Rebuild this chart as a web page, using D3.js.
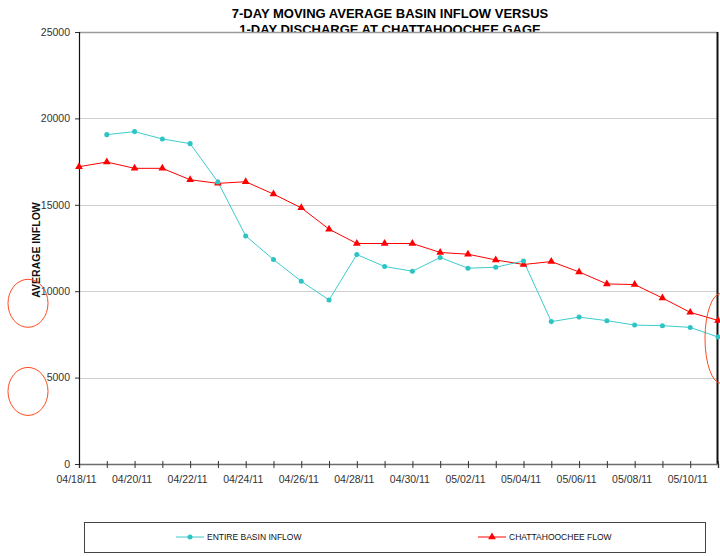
<!DOCTYPE html>
<html>
<head>
<meta charset="utf-8">
<script src="https://cdn.jsdelivr.net/npm/d3@7/dist/d3.min.js"></script>
<style>
  body { margin: 0; background: #fff; }
  text { font-family: Arial, "Liberation Sans", sans-serif; }
</style>
</head>
<body>
<div id="chart"></div>
<script>
// Data
var dates = ["2011-04-18","2011-04-19","2011-04-20","2011-04-21","2011-04-22","2011-04-23",
             "2011-04-24","2011-04-25","2011-04-26","2011-04-27","2011-04-28","2011-04-29",
             "2011-04-30","2011-05-01","2011-05-02","2011-05-03","2011-05-04","2011-05-05",
             "2011-05-06","2011-05-07","2011-05-08","2011-05-09","2011-05-10","2011-05-11"];
// basin inflow has no value on the first day
var basinInflow = [null, 19060, 19235, 18810, 18540, 16320, 13200, 11830, 10575, 9490, 12120, 11430,
                   11155, 11950, 11330, 11385, 11750, 8240, 8500, 8295, 8040, 8005, 7905, 7345];
var chattFlow = [17205, 17475, 17110, 17110, 16450, 16240, 16335, 15620, 14825, 13590, 12760, 12760,
                 12760, 12240, 12140, 11810, 11545, 11715, 11115, 10420, 10385, 9605, 8775, 8310];
var yTicks = [0, 5000, 10000, 15000, 20000, 25000];
var titleLines = ["7-DAY MOVING AVERAGE BASIN INFLOW VERSUS", "1-DAY DISCHARGE AT CHATTAHOOCHEE GAGE"];
var legendNames = ["ENTIRE BASIN INFLOW", "CHATTAHOOCHEE FLOW"];
// red circles someone drew on the chart (value at the centre)
var noteLeft = [9300, 4200];
var noteRight = {date: "2011-05-11", value: 7270};

var W = 720, H = 556;
var margin = {left: 79, right: 2, top: 32, bottom: 92};
var width = W - margin.left - margin.right;
var height = H - margin.top - margin.bottom;

var parse = d3.timeParse("%Y-%m-%d");
var days = dates.map(parse);

var svg = d3.select("#chart").append("svg")
    .attr("width", W)
    .attr("height", H);

// title (the plot area covers the bottom of the second line, as in the original)
svg.selectAll("text.title")
    .data(titleLines)
    .enter().append("text")
    .attr("class", "title")
    .attr("x", 390)
    .attr("y", function(d, i){ return 17.5 + i * 16; })
    .attr("text-anchor", "middle")
    .attr("font-size", "13px")
    .attr("font-weight", "bold")
    .attr("fill", "#000")
    .text(function(d){ return d; });

var g = svg.append("g")
    .attr("transform", "translate(" + margin.left + "," + margin.top + ")");

g.append("rect")
    .attr("y", 0.5)
    .attr("width", width)
    .attr("height", height)
    .attr("fill", "#fff");

// scales
var x = d3.scaleTime()
    .domain([days[0], days[days.length - 1]])
    .range([0, width]);
var y = d3.scaleLinear()
    .domain([0, 25000])
    .range([height, 0]);

// gridlines
g.selectAll("line.grid")
    .data(yTicks.slice(1))
    .enter().append("line")
    .attr("class", "grid")
    .attr("x1", 0)
    .attr("x2", width)
    .attr("y1", function(d){ return Math.round(y(d)) + 0.5; })
    .attr("y2", function(d){ return Math.round(y(d)) + 0.5; })
    .attr("stroke", function(d){ return d == 25000 ? "#9a9a9a" : "#cfcfcf"; })
    .attr("stroke-width", function(d){ return d == 25000 ? 1.5 : 1; });

// right border
g.append("line")
    .attr("x1", width - 0.5).attr("x2", width - 0.5)
    .attr("y1", 0).attr("y2", height)
    .attr("stroke", "#111")
    .attr("stroke-width", 2);

// x axis, a tick every day and a label every second day
var xAxis = d3.axisBottom(x)
    .tickValues(days)
    .tickSize(4)
    .tickFormat(function(d, i){ return i % 2 == 0 ? d3.timeFormat("%m/%d/%y")(d) : ""; });
var gx = g.append("g")
    .attr("transform", "translate(0," + height + ")")
    .call(xAxis);
gx.select(".domain").attr("stroke", "#6e6e6e").attr("stroke-width", 1.5);
gx.selectAll(".tick line").attr("y1", -3).attr("y2", 4).attr("stroke", "#333");
gx.selectAll(".tick text")
    .attr("dx", "-3px")
    .attr("y", 12)
    .attr("font-size", "10.5px")
    .attr("font-family", "Arial, 'Liberation Sans', sans-serif")
    .attr("fill", "#333");

// y axis
var yAxis = d3.axisLeft(y)
    .tickValues(yTicks)
    .tickSize(4)
    .tickPadding(5)
    .tickFormat(d3.format("d"));
var gy = g.append("g").call(yAxis);
gy.select(".domain").attr("stroke", "#111").attr("stroke-width", 1.2);
gy.selectAll(".tick line").attr("stroke", "#333");
gy.selectAll(".tick text")
    .attr("font-size", "10.5px")
    .attr("font-family", "Arial, 'Liberation Sans', sans-serif")
    .attr("fill", "#333");

svg.append("text")
    .attr("transform", "translate(40," + (margin.top + height / 2 + 2) + ") rotate(-90)")
    .attr("text-anchor", "middle")
    .attr("font-size", "10.5px")
    .attr("font-weight", "bold")
    .attr("fill", "#111")
    .text("AVERAGE INFLOW");

// lines
var basinData = days.map(function(d, i){ return {date: d, v: basinInflow[i]}; })
    .filter(function(d){ return d.v != null; });
var chattData = days.map(function(d, i){ return {date: d, v: chattFlow[i]}; });

var line = d3.line()
    .x(function(d){ return x(d.date); })
    .y(function(d){ return y(d.v); });

var cyan = "#3ccccc", red = "#ff0000";

g.append("path")
    .datum(chattData)
    .attr("d", line)
    .attr("fill", "none")
    .attr("stroke", red)
    .attr("stroke-width", 1);
g.append("path")
    .datum(basinData)
    .attr("d", line)
    .attr("fill", "none")
    .attr("stroke", cyan)
    .attr("stroke-width", 1);

var tri = d3.symbol().type(d3.symbolTriangle).size(26);
var dia = d3.symbol().type(d3.symbolCircle).size(20);

g.selectAll("path.tri")
    .data(chattData)
    .enter().append("path")
    .attr("class", "tri")
    .attr("d", tri)
    .attr("transform", function(d){ return "translate(" + x(d.date) + "," + y(d.v) + ")"; })
    .attr("fill", red);
g.selectAll("path.dot")
    .data(basinData)
    .enter().append("path")
    .attr("class", "dot")
    .attr("d", dia)
    .attr("transform", function(d){ return "translate(" + x(d.date) + "," + y(d.v) + ")"; })
    .attr("fill", "#2fc4c4");

// hand drawn circles
svg.selectAll("ellipse.noteL")
    .data(noteLeft)
    .enter().append("ellipse")
    .attr("class", "noteL")
    .attr("cx", 28)
    .attr("cy", function(d){ return margin.top + y(d); })
    .attr("rx", 20).attr("ry", 24)
    .attr("fill", "none")
    .attr("stroke", "#ff4a1c")
    .attr("stroke-width", 1);
svg.append("ellipse")
    .attr("cx", margin.left + x(parse(noteRight.date)) + 3)
    .attr("cy", margin.top + y(noteRight.value))
    .attr("rx", 16).attr("ry", 45)
    .attr("fill", "none")
    .attr("stroke", "#ff4a1c")
    .attr("stroke-width", 1);

// legend
var legend = svg.append("g");
legend.append("rect")
    .attr("x", 84.5).attr("y", 522.5)
    .attr("width", 621).attr("height", 30)
    .attr("fill", "#fff")
    .attr("stroke", "#444")
    .attr("stroke-width", 1);
var items = legend.selectAll("g.item")
    .data(legendNames)
    .enter().append("g")
    .attr("class", "item")
    .attr("transform", function(d, i){ return "translate(" + (i == 0 ? 176 : 478) + ",537)"; });
items.append("line")
    .attr("x1", 0).attr("x2", 28)
    .attr("stroke", function(d, i){ return i == 0 ? cyan : red; });
items.append("path")
    .attr("d", function(d, i){ return i == 0 ? dia() : tri(); })
    .attr("transform", "translate(14,0)")
    .attr("fill", function(d, i){ return i == 0 ? "#2fc4c4" : red; });
items.append("text")
    .attr("x", 31)
    .attr("y", 3)
    .attr("font-size", "8.5px")
    .attr("fill", "#111")
    .text(function(d){ return d; });
</script>
</body>
</html>
